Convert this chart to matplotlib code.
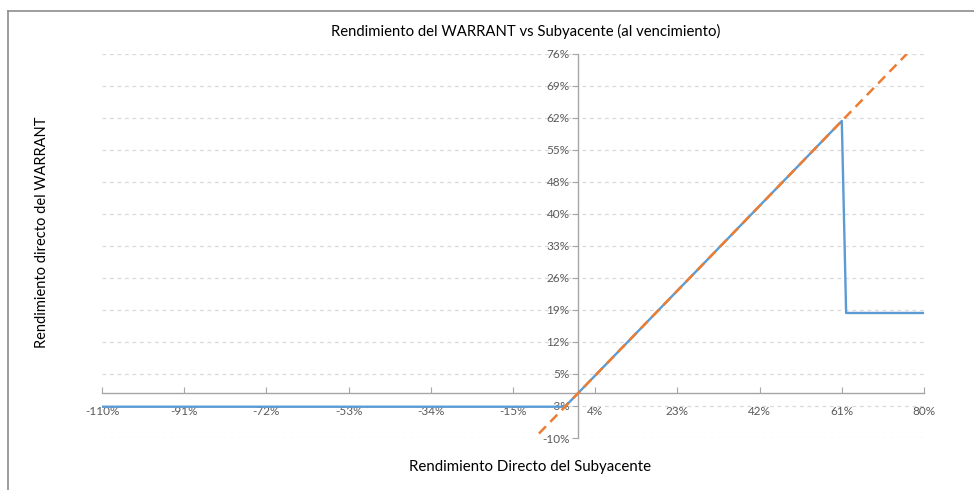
import matplotlib

matplotlib.use("Agg")
import matplotlib.pyplot as plt
from matplotlib.lines import Line2D
import numpy as np

plt.rcParams["font.family"] = ["Lato", "DejaVu Sans"]

# ---------------------------------------------------------------------------
# Data (percent)
# ---------------------------------------------------------------------------
warrant_x = [-110, -3, 61, 62, 80]
warrant_y = [-3, -3, 61, 18, 18]

subyacente_x = [-9, 76]
subyacente_y = [-9, 76]

x_ticks = [-110, -91, -72, -53, -34, -15, 4, 23, 42, 61, 80]
y_ticks = list(np.linspace(-10, 76, 13))
y_labels = ["-10%", "-3%", "5%", "12%", "19%", "26%", "33%",
            "40%", "48%", "55%", "62%", "69%", "76%"]

BLUE = "#5B9BD5"
ORANGE = "#ED7D31"
GRID = "#D9D9D9"
AXIS = "#A6A6A6"
TICK_TXT = "#595959"

fig = plt.figure(figsize=(9.74, 4.9), dpi=100)
ax = fig.add_axes([102 / 974, 52 / 490, 822 / 974, 384 / 490])

for y in y_ticks:
    ax.axhline(y, color=GRID, linestyle=(0, (3, 3)), linewidth=0.9, zorder=0)

ax.plot(warrant_x, warrant_y, color=BLUE, linewidth=1.7, zorder=3)
ax.plot(subyacente_x, subyacente_y, color=ORANGE, linewidth=1.8,
        linestyle=(0, (4, 2.5)), zorder=4)

ax.set_xlim(-110, 80)
ax.set_ylim(-10, 76)

ax.spines[["top", "right"]].set_visible(False)
ax.spines["left"].set_position(("data", 0))
ax.spines["bottom"].set_position(("data", 0))
for s in ("left", "bottom"):
    ax.spines[s].set_color(AXIS)
    ax.spines[s].set_linewidth(1.0)

ax.set_xticks(x_ticks)
ax.set_xticklabels([f"{v}%" for v in x_ticks])
ax.set_yticks(y_ticks)
ax.set_yticklabels(y_labels)
ax.tick_params(axis="x", direction="in", length=4, color=AXIS,
               labelsize=8.5, labelcolor=TICK_TXT, pad=9)
ax.tick_params(axis="y", direction="out", length=4, color=AXIS,
               labelsize=8.5, labelcolor=TICK_TXT, pad=2)

fig.text(526 / 974, 1 - 31 / 490, "Rendimiento del WARRANT vs Subyacente (al vencimiento)",
         ha="center", va="center", fontsize=10.7, color="#000000")
fig.text(530 / 974, 1 - 467 / 490, "Rendimiento Directo del Subyacente",
         ha="center", va="center", fontsize=10.8, color="#000000")
fig.text(42 / 974, 1 - 232 / 490, "Rendimiento directo del WARRANT",
         ha="center", va="center", rotation=90, fontsize=10.5, color="#000000")

# chart frame (only top and left edges visible in the crop)
fig.add_artist(Line2D([8 / 974, 1], [1 - 11 / 490, 1 - 11 / 490],
                      transform=fig.transFigure, color="#8C8C8C", linewidth=1.2))
fig.add_artist(Line2D([8 / 974, 8 / 974], [0, 1 - 11 / 490],
                      transform=fig.transFigure, color="#8C8C8C", linewidth=1.2))

fig.savefig("out.png", dpi=100)
